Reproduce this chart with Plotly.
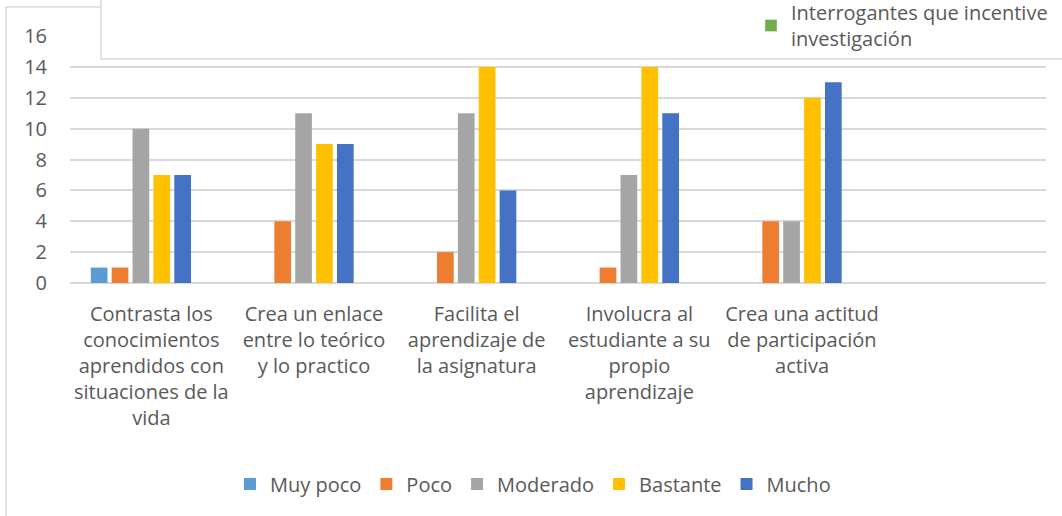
import plotly.graph_objects as go

# Datos del gráfico
categorias = [
    "Contrasta los<br>conocimientos<br>aprendidos con<br>situaciones de la<br>vida",
    "Crea un enlace<br>entre lo teórico<br>y lo practico",
    "Facilita el<br>aprendizaje de<br>la asignatura",
    "Involucra al<br>estudiante a su<br>propio<br>aprendizaje",
    "Crea una actitud<br>de participación<br>activa",
    " ",
]
series = ["Muy poco", "Poco", "Moderado", "Bastante", "Mucho"]
muy_poco = [1, None, None, None, None]
poco = [1, 4, 2, 1, 4]
moderado = [10, 11, 11, 7, 4]
bastante = [7, 9, 14, 14, 12]
mucho = [7, 9, 6, 11, 13]
valores = [muy_poco, poco, moderado, bastante, mucho]
colores = ["#5B9BD5", "#ED7D31", "#A5A5A5", "#FFC000", "#4472C4"]

extra_serie = "Interrogantes que incentive<br>investigación"
y_ticks = [0, 2, 4, 6, 8, 10, 12, 14, 16]

FONT = "Open Sans"
FS = 20
GRIS_TXT = "#595959"
GRIS_LIN = "#d9d9d9"

# área del gráfico en píxeles (x 70-1046, y 36-283)
PW, PH = 976, 247


def px_x(px):
    return (px - 70) / PW


def px_y(py):
    return (283 - py) / PH


fig = go.Figure()

for nombre, vals, color in zip(series, valores, colores):
    fig.add_trace(go.Bar(
        x=categorias[:5],
        y=vals,
        name=nombre,
        marker=dict(color=color, line=dict(width=0)),
        legend="legend",
    ))

# serie sin datos, solo aparece en el recuadro superior
fig.add_trace(go.Bar(
    x=[None], y=[None],
    name=extra_serie,
    marker=dict(color="#70AD47"),
    legend="legend2",
    showlegend=True,
))

fig.update_layout(
    width=1062,
    height=516,
    margin=dict(l=70, r=16, t=36, b=233, autoexpand=False),
    paper_bgcolor="white",
    plot_bgcolor="white",
    barmode="group",
    bargap=0.23,
    bargroupgap=0.2,
    font=dict(family=FONT, size=FS, color=GRIS_TXT),
    xaxis=dict(
        type="category",
        categoryorder="array",
        categoryarray=categorias,
        range=[-0.5, 5.5],
        showgrid=False,
        showline=False,
        ticks="",
        tickangle=0,
        automargin=False,
        ticklabelstandoff=17,
        tickfont=dict(family=FONT, size=FS, color=GRIS_TXT),
    ),
    yaxis=dict(
        range=[0, 16],
        tickvals=y_ticks,
        showgrid=True,
        gridcolor=GRIS_LIN,
        gridwidth=1.5,
        zeroline=True,
        zerolinecolor=GRIS_LIN,
        zerolinewidth=2,
        ticks="",
        automargin=False,
        ticklabelstandoff=22,
        tickfont=dict(family=FONT, size=FS, color=GRIS_TXT),
    ),
    legend=dict(
        orientation="h",
        x=px_x(533),
        xanchor="center",
        y=px_y(484),
        yanchor="middle",
        font=dict(family=FONT, size=FS, color=GRIS_TXT),
        itemwidth=30,
        bgcolor="rgba(0,0,0,0)",
    ),
    legend2=dict(
        x=px_x(751),
        xanchor="left",
        y=px_y(-7),
        yanchor="top",
        font=dict(family=FONT, size=FS, color=GRIS_TXT),
        bgcolor="rgba(0,0,0,0)",
        itemwidth=30,
    ),
    shapes=[
        # borde exterior del gráfico
        dict(type="rect", xref="paper", yref="paper",
             x0=px_x(6), x1=1.2, y0=-1.2, y1=px_y(7),
             line=dict(color=GRIS_LIN, width=1.5), fillcolor="rgba(0,0,0,0)",
             layer="below"),
        # recuadro superpuesto arriba a la derecha
        dict(type="rect", xref="paper", yref="paper",
             x0=px_x(101), x1=1.2, y0=px_y(59), y1=1.4,
             line=dict(color=GRIS_LIN, width=1.5), fillcolor="white",
             layer="above"),
    ],
)

# sin margen del body para que el gráfico empiece en (0, 0)
fig.write_html(
    "out.html",
    config={"displayModeBar": False},
    post_script="document.body.style.margin='0px';",
)
